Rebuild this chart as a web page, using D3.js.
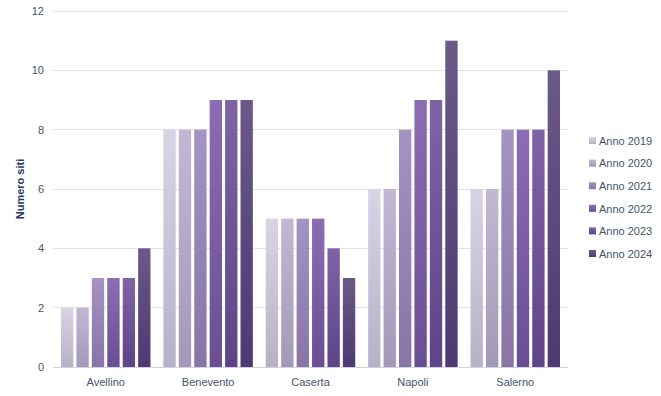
<!DOCTYPE html>
<html>
<head>
<meta charset="utf-8">
<script src="https://cdn.jsdelivr.net/npm/d3@7"></script>
<style>
  body { margin: 0; background: #fff; }
  text { font-family: "Liberation Sans", Arial, sans-serif; }
</style>
</head>
<body>
<div id="chart"></div>
<script>
// province names on the x axis
const provinces = ['Avellino', 'Benevento', 'Caserta', 'Napoli', 'Salerno'];
const years = ['Anno 2019', 'Anno 2020', 'Anno 2021', 'Anno 2022', 'Anno 2023', 'Anno 2024'];

// one array per year, in province order
const anno2019 = [2, 8, 5, 6, 6];
const anno2020 = [2, 8, 5, 6, 6];
const anno2021 = [3, 8, 5, 8, 8];
const anno2022 = [3, 9, 5, 9, 8];
const anno2023 = [3, 9, 4, 9, 8];
const anno2024 = [4, 9, 3, 11, 10];
const seriesValues = [anno2019, anno2020, anno2021, anno2022, anno2023, anno2024];

const yTicks = [0, 2, 4, 6, 8, 10, 12];

// top / bottom of each bar gradient
const topColors = ['#d9d4e4', '#c2b8d4', '#a593c4', '#8a6db3', '#7e64a6', '#6b5988'];
const bottomColors = ['#b7b1c7', '#a398b7', '#8874a7', '#6a4e93', '#5e4388', '#4e3971'];

const W = 661, H = 396;
const margin = { top: 11, right: 93, bottom: 29, left: 53 };
const innerW = W - margin.left - margin.right;
const innerH = H - margin.top - margin.bottom;

const svg = d3.select('#chart').append('svg')
  .attr('width', W)
  .attr('height', H);

const defs = svg.append('defs');
years.forEach((y, i) => {
  const g = defs.append('linearGradient')
    .attr('id', 'grad' + i)
    .attr('x1', 0).attr('y1', 0).attr('x2', 0).attr('y2', 1);
  g.append('stop').attr('offset', '0%').attr('stop-color', topColors[i]);
  g.append('stop').attr('offset', '100%').attr('stop-color', bottomColors[i]);
});

const g = svg.append('g').attr('transform', `translate(${margin.left},${margin.top})`);

const x0 = d3.scaleBand().domain(provinces).range([0, innerW]).paddingInner(0.126).paddingOuter(0.078);
const x1 = d3.scaleBand().domain(years).range([0, x0.bandwidth()]).paddingInner(0.2);
const y = d3.scaleLinear().domain([0, 12]).range([innerH, 0]);

// gridlines
g.append('g')
  .selectAll('line')
  .data(yTicks)
  .join('line')
  .attr('x1', 0).attr('x2', innerW)
  .attr('y1', d => y(d)).attr('y2', d => y(d))
  .attr('stroke', d => d === 0 ? '#d0d4da' : '#dfe4ea')
  .attr('stroke-width', 1)
  .attr('shape-rendering', 'crispEdges');

// y axis labels
const yAxis = g.append('g')
  .call(d3.axisLeft(y).tickValues(yTicks).tickSize(0).tickPadding(9));
yAxis.select('.domain').remove();
yAxis.selectAll('text').attr('fill', '#44546a').style('font-size', '11px');

// x axis labels
const xAxis = g.append('g')
  .attr('transform', `translate(0,${innerH})`)
  .call(d3.axisBottom(x0).tickSize(0).tickPadding(11));
xAxis.select('.domain').remove();
xAxis.selectAll('text').attr('fill', '#44546a').style('font-size', '11px');

// bars
const groups = g.append('g')
  .selectAll('g')
  .data(provinces)
  .join('g')
  .attr('transform', d => `translate(${x0(d)},0)`);

groups.selectAll('rect')
  .data((p, pi) => years.map((yr, yi) => ({ yr, yi, v: seriesValues[yi][pi] })))
  .join('rect')
  .attr('x', d => x1(d.yr))
  .attr('width', x1.bandwidth())
  .attr('y', d => y(d.v))
  .attr('height', d => innerH - y(d.v))
  .attr('fill', d => `url(#grad${d.yi})`);

// axis title
svg.append('text')
  .attr('transform', `translate(24,${margin.top + innerH / 2}) rotate(-90)`)
  .attr('text-anchor', 'middle')
  .attr('fill', '#1f3864')
  .style('font-size', '11px')
  .style('font-weight', 'bold')
  .text('Numero siti');

// legend
const legend = svg.append('g').attr('transform', 'translate(589,141)');
const items = legend.selectAll('g')
  .data(years)
  .join('g')
  .attr('transform', (d, i) => `translate(0,${i * 22.6})`);
items.append('rect')
  .attr('x', 0).attr('y', -4)
  .attr('width', 7).attr('height', 7)
  .attr('fill', (d, i) => `url(#grad${i})`);
items.append('text')
  .attr('x', 10).attr('y', 0)
  .attr('dy', '0.35em')
  .attr('fill', '#44546a')
  .style('font-size', '11px')
  .text(d => d);
</script>
</body>
</html>
